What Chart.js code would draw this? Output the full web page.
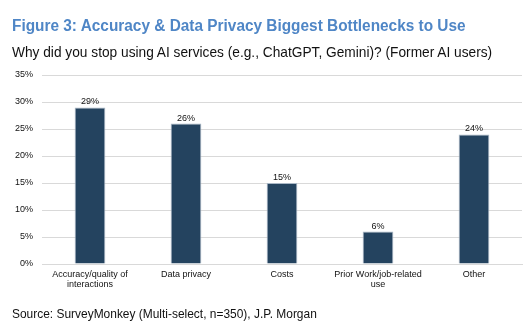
<!DOCTYPE html>
<html>
<head>
<meta charset="utf-8">
<script src="https://cdn.jsdelivr.net/npm/chart.js@4"></script>
<style>
    html, body { margin: 0; padding: 0; background: #fff; }
    #wrap { position: relative; width: 526px; height: 330px; overflow: hidden; font-family: 'Liberation Sans', Arial, sans-serif; }
    #chart { position: absolute; left: 0; top: 0; }
    .txt { position: absolute; left: 12px; white-space: nowrap; transform-origin: 0 0; }
    .title { top: 17px; font-size: 16px; font-weight: bold; color: #4f86c6; }
    .subtitle { top: 43px; font-size: 15px; color: #111; }
    .source { top: 306px; font-size: 13px; color: #111; }
</style>
</head>
<body>
<div id="wrap">
    <canvas id="chart" width="526" height="330"></canvas>
    <div class="txt title" data-w="454">Figure 3: Accuracy &amp; Data Privacy Biggest Bottlenecks to Use</div>
    <div class="txt subtitle" data-w="480">Why did you stop using AI services (e.g., ChatGPT, Gemini)? (Former AI users)</div>
    <div class="txt source" data-w="305">Source: SurveyMonkey (Multi-select, n=350), J.P. Morgan</div>
</div>
<script>
// === DATA ===
const reasons = [
    ['Accuracy/quality of', 'interactions'],
    'Data privacy',
    'Costs',
    ['Prior Work/job-related', 'use'],
    'Other'
];
const sharePct = [29, 26, 15, 6, 24];
const yTicks = [0, 5, 10, 15, 20, 25, 30, 35];

const COLORS = {
    bar: '#24435f',
    barEdge: '#a9b7c6',
    grid: '#d9d9d9',
    text: '#111111'
};

// the heading lines are set in a slightly narrow face, squeeze them to width
document.querySelectorAll('.txt').forEach(el => {
    const w = +el.dataset.w;
    el.style.transform = 'scaleX(' + (w / el.offsetWidth) + ')';
});

// value labels sitting on top of each bar
const barLabels = {
    id: 'barLabels',
    afterDatasetsDraw(chart) {
        const ctx = chart.ctx;
        const meta = chart.getDatasetMeta(0);
        ctx.save();
        ctx.font = '9px "Liberation Sans", Arial, sans-serif';
        ctx.fillStyle = COLORS.text;
        ctx.textAlign = 'center';
        ctx.textBaseline = 'bottom';
        meta.data.forEach((bar, i) => {
            ctx.fillText(sharePct[i] + '%', bar.x, bar.y - 1);
        });
        ctx.restore();
    }
};

new Chart(document.getElementById('chart'), {
    type: 'bar',
    data: {
        labels: reasons,
        datasets: [{
            data: sharePct,
            backgroundColor: COLORS.bar,
            borderColor: COLORS.barEdge,
            borderWidth: 1,
            barPercentage: 0.32,
            categoryPercentage: 1
        }]
    },
    options: {
        responsive: false,
        animation: false,
        layout: { padding: { top: 75, right: 4, bottom: 36, left: 0 } },
        plugins: {
            legend: { display: false },
            tooltip: { enabled: false }
        },
        scales: {
            x: {
                grid: { display: false },
                border: { color: COLORS.grid, width: 1 },
                ticks: {
                    color: COLORS.text,
                    font: { family: '"Liberation Sans", Arial, sans-serif', size: 9, lineHeight: 1.1 },
                    maxRotation: 0,
                    padding: -2
                },
                afterFit(scale) { scale.height = 30; }
            },
            y: {
                min: 0,
                max: 35,
                afterBuildTicks(scale) { scale.ticks = yTicks.map(v => ({ value: v })); },
                grid: { color: COLORS.grid, drawTicks: false },
                border: { display: false },
                ticks: {
                    color: COLORS.text,
                    font: { family: '"Liberation Sans", Arial, sans-serif', size: 9 },
                    padding: 9,
                    callback: v => v + '%'
                },
                afterFit(scale) { scale.width = 42; }
            }
        }
    },
    plugins: [barLabels]
});
</script>
</body>
</html>
